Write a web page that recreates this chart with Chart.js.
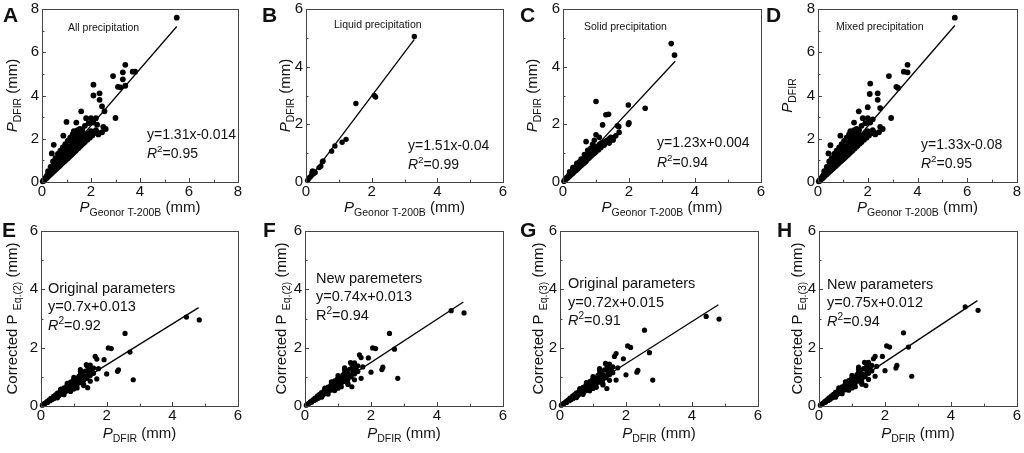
<!DOCTYPE html>
<html>
<head>
<meta charset="utf-8">
<script src="https://cdn.jsdelivr.net/npm/chart.js@4.4.1/dist/chart.umd.min.js"></script>
<style>
  html, body { margin: 0; padding: 0; background: #fff; }
  #wrap { position: relative; width: 1024px; height: 453px; overflow: hidden; }
  canvas { position: absolute; }
</style>
</head>
<body>
<div id="wrap"></div>
<script>
const FONT = '"Liberation Sans", Arial, sans-serif';

// ---- data: [x, y] pairs ----
// A: all precipitation, P Geonor vs P DFIR
const allPrecip = [
  [0.03,0.03],[0.06,0.05],[0.08,0.1],[0.1,0.1],[0.12,0.16],[0.15,0.15],[0.17,0.22],[0.2,0.2],[0.2,0.28],[0.23,0.34],
  [0.25,0.26],[0.28,0.38],[0.3,0.31],[0.3,0.45],[0.33,0.4],[0.35,0.36],[0.38,0.5],[0.4,0.42],[0.4,0.6],[0.43,0.55],
  [0.45,0.47],[0.48,0.68],[0.5,0.52],[0.5,0.8],[0.53,0.62],[0.55,0.58],[0.57,0.75],[0.6,0.63],[0.6,0.9],[0.63,0.82],
  [0.65,0.68],[0.68,0.95],[0.7,0.73],[0.7,1.08],[0.73,0.88],[0.75,0.79],[0.77,1.02],[0.8,0.84],[0.8,1.2],[0.83,0.98],
  [0.85,0.9],[0.87,1.12],[0.9,0.95],[0.9,1.3],[0.93,1.08],[0.95,1.0],[0.97,1.22],[1.0,1.05],[1.0,1.42],[1.03,1.18],
  [1.05,1.1],[1.08,1.32],[1.1,1.16],[1.1,1.55],[1.13,1.3],[1.15,1.21],[1.18,1.45],[1.2,1.26],[1.2,1.7],[1.23,1.4],
  [1.25,1.32],[1.28,1.56],[1.3,1.37],[1.3,1.85],[1.33,1.5],[1.36,1.43],[1.38,1.68],[1.4,1.48],[1.4,2.0],[1.45,1.6],
  [1.48,1.56],[1.5,1.8],[1.5,2.2],[1.55,1.64],[1.58,1.95],[1.6,1.7],[1.62,2.1],[1.68,1.78],[1.7,2.0],[1.75,1.85],
  [1.8,2.15],[1.85,1.95],[1.9,2.25],[1.95,2.05],[2.0,2.35],[2.05,2.15],[2.15,2.28],[2.2,2.4],[2.25,2.3],
  [1.15,2.05],[1.25,2.2],[1.3,2.35],[1.35,2.1],[1.45,2.4],[1.5,2.3],[1.55,2.45],[1.6,2.25],[1.65,2.4],[1.05,1.9],
  [0.95,1.75],[0.85,1.6],[0.75,1.45],[0.65,1.3],[0.55,1.1],[0.45,0.95],[0.35,0.7],[0.25,0.5],
  [0.1,0.12],[0.2,0.24],[0.3,0.36],[0.4,0.5],[0.5,0.62],[0.6,0.75],[0.7,0.86],[0.8,0.98],[0.9,1.1],[1.0,1.22],
  [1.1,1.34],[1.2,1.46],[1.3,1.6],[1.4,1.72],[1.5,1.9],[1.6,1.95],[1.7,2.1],[1.8,2.02],[1.9,2.1],[2.0,2.2],
  [0.15,0.19],[0.25,0.31],[0.35,0.44],[0.45,0.56],[0.55,0.68],[0.65,0.8],[0.75,0.92],[0.85,1.04],[0.95,1.16],[1.05,1.28],
  [1.15,1.4],[1.25,1.52],[1.35,1.65],[1.45,1.75],[1.55,1.85],[1.65,1.9],
  [0.55,0.85],[0.65,0.98],[0.75,1.12],[0.85,1.25],[0.95,1.38],[1.05,1.5],[1.15,1.62],[1.25,1.78],[1.35,1.92],[1.45,2.05],
  [1.55,2.15],[1.65,2.2],[1.0,1.65],[1.2,1.95],[1.4,2.25],[1.3,2.1],
  [5.5,7.6],[3.4,5.42],[3.3,5.07],[3.7,5.1],[3.8,5.1],[2.9,4.9],[3.3,4.75],[3.1,4.4],[3.2,4.38],[3.4,4.45],
  [2.1,4.5],[2.35,4.1],[2.1,4.0],[2.35,3.8],[2.45,3.5],[1.6,3.27],[2.55,3.27],[3.0,2.96],[1.0,2.78],[1.8,2.95],
  [2.0,2.95],[2.2,2.95],[1.9,2.72],[2.1,2.75],[2.25,2.65],[2.5,2.55],[2.6,2.45],[2.15,2.27],[2.3,2.2],[0.87,2.14],
  [0.48,1.72],[0.4,1.32],[1.75,2.6],[1.4,2.75],[2.45,2.3]
];

// B: liquid precipitation
const liquidPrecip = [
  [0.05,0.05],[0.08,0.12],[0.1,0.15],[0.15,0.2],[0.18,0.32],[0.2,0.38],[0.22,0.28],[0.25,0.35],[0.28,0.33],[0.4,0.5],
  [0.45,0.55],[0.5,0.7],[0.52,0.73],[0.78,1.07],[0.88,1.25],[1.1,1.38],[1.22,1.48],[1.52,2.72],[2.08,3.0],[2.12,2.95],
  [3.3,5.05]
];

// C: solid precipitation
const solidPrecip = [
  [0.03,0.03],[0.06,0.07],[0.08,0.12],[0.1,0.1],[0.12,0.16],[0.15,0.15],[0.17,0.22],[0.2,0.2],[0.2,0.27],[0.23,0.32],
  [0.25,0.26],[0.28,0.37],[0.3,0.3],[0.3,0.42],[0.33,0.37],[0.35,0.36],[0.38,0.48],[0.4,0.41],[0.4,0.55],[0.43,0.5],
  [0.45,0.46],[0.48,0.62],[0.5,0.52],[0.5,0.7],[0.53,0.6],[0.55,0.57],[0.58,0.72],[0.6,0.62],[0.6,0.8],[0.63,0.7],
  [0.65,0.67],[0.68,0.85],[0.7,0.72],[0.72,0.92],[0.75,0.8],[0.78,0.95],[0.8,0.84],[0.82,1.02],[0.85,0.9],[0.88,1.05],
  [0.9,0.95],[0.93,1.12],[0.95,1.0],[0.98,1.15],[1.0,1.05],[1.05,1.2],[1.08,1.12],[1.1,1.3],[1.15,1.2],[1.2,1.35],
  [1.25,1.28],[1.3,1.42],[1.35,1.38],[1.4,1.5],[1.45,1.45],[1.5,1.52],
  [0.15,0.18],[0.25,0.3],[0.35,0.42],[0.45,0.54],[0.55,0.65],[0.65,0.77],[0.75,0.88],[0.85,1.0],[0.95,1.1],[1.05,1.15],
  [1.15,1.28],[1.25,1.38],[1.35,1.45],[1.45,1.55],[0.1,0.13],[0.4,0.47],[0.6,0.7],[0.8,0.92],[1.0,1.15],
  [0.2,0.35],[0.3,0.5],[0.42,0.65],[0.55,0.8],[0.65,0.95],[0.75,1.1],[0.85,1.18],[0.95,1.25],[0.7,1.4],[0.9,1.31],
  [1.15,1.35],[1.3,1.4],[1.52,1.46],[1.4,1.35],[1.6,1.6],[1.0,1.64],
  [3.28,4.8],[3.38,4.4],[1.0,2.79],[1.98,2.67],[2.49,2.56],[1.3,2.33],[1.38,2.35],[1.2,1.98],[2.0,2.05],[1.98,2.0],
  [1.69,1.92],[1.7,1.72],[1.65,1.95],[0.95,1.45],[1.1,1.55]
];

// D: mixed precipitation
const mixedPrecip = [
  [0.03,0.03],[0.06,0.05],[0.08,0.1],[0.1,0.1],[0.12,0.16],[0.15,0.15],[0.17,0.22],[0.2,0.2],[0.2,0.28],[0.23,0.34],
  [0.25,0.26],[0.28,0.38],[0.3,0.31],[0.3,0.45],[0.33,0.4],[0.35,0.36],[0.38,0.5],[0.4,0.42],[0.4,0.6],[0.43,0.55],
  [0.45,0.47],[0.48,0.68],[0.5,0.52],[0.5,0.8],[0.53,0.62],[0.55,0.58],[0.57,0.75],[0.6,0.63],[0.6,0.9],[0.63,0.82],
  [0.65,0.68],[0.68,0.95],[0.7,0.73],[0.7,1.08],[0.73,0.88],[0.75,0.79],[0.77,1.02],[0.8,0.84],[0.8,1.2],[0.83,0.98],
  [0.85,0.9],[0.87,1.12],[0.9,0.95],[0.9,1.3],[0.93,1.08],[0.95,1.0],[0.97,1.22],[1.0,1.05],[1.0,1.42],[1.03,1.18],
  [1.05,1.1],[1.08,1.32],[1.1,1.16],[1.1,1.55],[1.13,1.3],[1.15,1.21],[1.18,1.45],[1.2,1.26],[1.2,1.7],[1.23,1.4],
  [1.25,1.32],[1.28,1.56],[1.3,1.37],[1.3,1.85],[1.33,1.5],[1.36,1.43],[1.38,1.68],[1.4,1.48],[1.4,2.0],[1.45,1.6],
  [1.48,1.56],[1.5,1.8],[1.5,2.2],[1.55,1.64],[1.58,1.95],[1.6,1.7],[1.62,2.1],[1.68,1.78],[1.7,2.0],[1.75,1.85],
  [1.8,2.15],[1.85,1.95],[1.9,2.25],[1.95,2.05],[2.0,2.35],[2.05,2.15],[2.15,2.28],[2.2,2.4],[2.25,2.3],
  [1.15,2.05],[1.25,2.2],[1.3,2.35],[1.35,2.1],[1.45,2.4],[1.5,2.3],[1.55,2.45],[1.6,2.25],[1.65,2.4],[1.05,1.9],
  [0.95,1.75],[0.85,1.6],[0.75,1.45],[0.65,1.3],[0.55,1.1],[0.45,0.95],[0.35,0.7],[0.25,0.5],
  [0.1,0.12],[0.2,0.24],[0.3,0.36],[0.4,0.5],[0.5,0.62],[0.6,0.75],[0.7,0.86],[0.8,0.98],[0.9,1.1],[1.0,1.22],
  [1.1,1.34],[1.2,1.46],[1.3,1.6],[1.4,1.72],[1.5,1.9],[1.6,1.95],[1.7,2.1],[1.8,2.02],[1.9,2.1],[2.0,2.2],
  [0.15,0.19],[0.25,0.31],[0.35,0.44],[0.45,0.56],[0.55,0.68],[0.65,0.8],[0.75,0.92],[0.85,1.04],[0.95,1.16],[1.05,1.28],
  [1.15,1.4],[1.25,1.52],[1.35,1.65],[1.45,1.75],[1.55,1.85],[1.65,1.9],
  [0.55,0.85],[0.65,0.98],[0.75,1.12],[0.85,1.25],[0.95,1.38],[1.05,1.5],[1.15,1.62],[1.25,1.78],[1.35,1.92],[1.45,2.05],
  [1.55,2.15],[1.65,2.2],[1.0,1.65],[1.2,1.95],[1.4,2.25],[1.3,2.1],
  [5.5,7.6],[3.6,5.42],[3.45,5.1],[3.6,5.07],[2.85,4.9],[3.15,4.4],[3.22,4.35],[2.1,4.55],[2.4,4.1],[2.08,4.07],
  [2.4,3.8],[2.5,3.42],[1.64,3.27],[2.0,3.46],[2.94,2.96],[0.9,2.14],[0.5,1.7],[1.8,2.95],[2.0,2.95],[2.2,2.9],
  [1.9,2.72],[2.1,2.75],[2.5,2.55],[2.6,2.45],[2.15,2.27],[2.3,2.2],[0.42,1.32],[1.75,2.6],[1.45,2.75],[2.45,2.3]
];

// E-H: P DFIR (shared x) against the corrected values
const dfirX = [
  0.04,0.08,0.1,0.14,0.18,0.2,0.24,0.28,0.3,0.34,0.38,0.4,0.44,0.48,0.5,0.54,0.58,0.6,0.64,0.68,
  0.7,0.74,0.78,0.8,0.84,0.88,0.9,0.94,0.98,1.0,1.05,1.1,1.15,1.2,1.25,1.3,1.35,1.4,0.6,0.85,
  1.1,0.45,1.3,4.43,4.82,2.56,2.05,2.14,2.71,2.81,2.36,2.33,2.0,1.7,1.92,1.65,1.7,1.42,1.38,1.45,
  1.5,1.6,1.75,1.2,1.45,1.55,
  0.15,0.25,0.35,0.45,0.55,0.65,0.75,0.85,0.95,1.05,1.15,1.25,1.35,1.45,1.0,1.2,0.7,0.9,
  0.5,0.7,0.9,1.1,1.3,1.5,0.6,0.8,1.0,1.2,1.4,1.0,1.2,1.4,1.6,1.3,1.5
];
const eq2Original = [
  0.03,0.06,0.08,0.1,0.15,0.12,0.2,0.18,0.26,0.22,0.33,0.26,0.38,0.31,0.44,0.35,0.5,0.4,0.56,0.45,
  0.62,0.5,0.68,0.52,0.75,0.6,0.82,0.64,0.88,0.68,0.92,0.74,1.02,0.8,1.1,0.88,1.2,0.95,0.48,0.66,
  0.88,0.34,1.05,3.05,2.95,2.49,1.99,1.97,1.85,0.9,1.24,1.19,1.1,1.61,1.59,1.7,0.93,0.63,1.42,1.19,
  1.05,1.12,1.28,1.25,1.3,1.22,
  0.11,0.18,0.26,0.33,0.41,0.48,0.56,0.63,0.7,0.78,0.85,0.92,1.0,1.07,0.78,0.96,0.56,0.72,
  0.28,0.39,0.5,0.62,0.74,0.85,0.58,0.78,0.98,1.18,1.38,0.58,1.08,1.2,1.3,0.7,1.4
];
const eq2New = [
  0.03,0.06,0.08,0.11,0.16,0.13,0.21,0.19,0.27,0.23,0.35,0.27,0.4,0.33,0.46,0.37,0.53,0.42,0.59,0.47,
  0.65,0.53,0.71,0.55,0.79,0.63,0.86,0.67,0.92,0.71,0.97,0.78,1.07,0.84,1.16,0.92,1.26,1.0,0.5,0.69,
  0.92,0.36,1.1,3.27,3.19,2.49,1.99,1.97,1.95,0.95,1.33,1.25,1.16,1.66,1.65,1.75,0.95,0.66,1.49,1.25,
  1.1,1.18,1.34,1.31,1.37,1.28,
  0.12,0.19,0.27,0.35,0.43,0.5,0.59,0.66,0.74,0.82,0.89,0.97,1.05,1.12,0.84,1.0,0.59,0.76,
  0.3,0.41,0.53,0.66,0.78,0.9,0.61,0.83,1.04,1.25,1.46,0.61,1.14,1.27,1.38,0.74,1.48
];
const eq3Original = [
  0.03,0.06,0.08,0.1,0.15,0.12,0.2,0.18,0.27,0.22,0.34,0.26,0.39,0.32,0.45,0.36,0.51,0.41,0.57,0.46,
  0.64,0.51,0.7,0.53,0.77,0.61,0.84,0.65,0.9,0.7,0.95,0.76,1.05,0.82,1.13,0.9,1.24,0.97,0.49,0.68,
  0.9,0.35,1.08,3.07,2.98,2.6,2.06,2.01,1.83,0.89,1.22,1.16,1.07,1.8,1.62,1.7,0.89,0.6,1.46,1.22,
  1.07,1.14,1.31,1.28,1.33,1.25,
  0.11,0.18,0.27,0.34,0.42,0.49,0.57,0.64,0.71,0.8,0.87,0.94,1.02,1.09,0.82,0.97,0.57,0.73,
  0.29,0.4,0.52,0.64,0.76,0.88,0.6,0.8,1.01,1.22,1.42,0.6,1.11,1.24,1.34,0.72,1.44
];
const eq3New = [
  0.03,0.06,0.08,0.11,0.16,0.13,0.21,0.19,0.28,0.23,0.35,0.28,0.4,0.33,0.47,0.38,0.53,0.43,0.6,0.48,
  0.66,0.54,0.72,0.56,0.8,0.64,0.87,0.68,0.93,0.72,0.98,0.79,1.08,0.85,1.17,0.93,1.28,1.01,0.51,0.7,
  0.93,0.36,1.11,3.4,3.28,2.51,2.06,2.02,2.02,1.02,1.39,1.3,1.21,1.7,1.7,1.62,1.02,0.7,1.5,1.27,
  1.12,1.2,1.36,1.33,1.39,1.3,
  0.12,0.19,0.28,0.35,0.44,0.51,0.6,0.67,0.75,0.83,0.91,0.98,1.07,1.14,0.85,1.02,0.6,0.77,
  0.3,0.42,0.54,0.66,0.79,0.91,0.62,0.83,1.05,1.26,1.48,0.62,1.16,1.28,1.39,0.75,1.5
];

// fitted lines as printed in each panel (A..H)
const fitSlope     = [1.31, 1.51, 1.23, 1.33, 0.7, 0.74, 0.72, 0.75];
const fitIntercept = [-0.014, -0.04, 0.004, -0.08, 0.013, 0.013, 0.015, 0.012];
const fitFrom      = [0, 0.05, 0, 0, 0, 0, 0, 0];
const fitTo        = [5.5, 3.3, 3.4, 5.5, 4.8, 4.8, 4.8, 4.8];
const axisMax      = [8, 6, 6, 8, 6, 6, 6, 6];
const r2Text       = ['0.95', '0.99', '0.94', '0.95', '0.92', '0.94', '0.91', '0.94'];
const eqText       = ['y=1.31x-0.014', 'y=1.51x-0.04', 'y=1.23x+0.004', 'y=1.33x-0.08',
                      'y=0.7x+0.013', 'y=0.74x+0.013', 'y=0.72x+0.015', 'y=0.75x+0.012'];

const pairs = (xs, ys) => xs.map((x, i) => [x, ys[i]]);

const geonorTitle = [['P', 'i'], ['Geonor T-200B', 'sub'], [' (mm)', '']];
const dfirTitle = [['P', 'i'], ['DFIR', 'sub'], [' (mm)', '']];
const corr2 = [['Corrected P ', ''], ['Eq.(2)', 'sub'], [' (mm)', '']];
const corr3 = [['Corrected P ', ''], ['Eq.(3)', 'sub'], [' (mm)', '']];
const R2 = (v, it) => [['R', it ? 'i' : ''], ['2', 'sup'], ['=' + v, '']];

// canvas box [left, top, w, h], plot area [left, top, right, bottom] inside it
const panels = [
  { letter: 'A', lp: [3, 22], box: [0, 0, 255, 225], area: [42, 9, 238, 182], pts: allPrecip, r: 2.9,
    xt: geonorTitle, xty: 212, yt: dfirTitle, ytx: 17,
    notes: [[68, 31, 10.5, [['All precipitation', '']]], [147, 139, 14, 'eq'], [147, 158, 14, 'r2i']] },
  { letter: 'B', lp: [7, 22], box: [255, 0, 255, 225], area: [51, 9, 248, 182], pts: liquidPrecip, r: 2.7,
    xt: geonorTitle, xty: 212, yt: dfirTitle, ytx: 35,
    notes: [[79, 28, 10.5, [['Liquid precipitation', '']]], [153, 150, 14, 'eq'], [153, 169, 14, 'r2i']] },
  { letter: 'C', lp: [10, 22], box: [510, 0, 255, 225], area: [53, 9, 252, 182], pts: solidPrecip, r: 2.8,
    xt: geonorTitle, xty: 212, yt: dfirTitle, ytx: 27,
    notes: [[74, 30, 10.5, [['Solid precipitation', '']]], [147, 147, 14, 'eq'], [147, 167, 14, 'r2i']] },
  { letter: 'D', lp: [2, 22], box: [764, 0, 260, 225], area: [54, 9, 253, 182], pts: mixedPrecip, r: 2.9,
    xt: geonorTitle, xty: 212, yt: [['P', 'i'], ['DFIR', 'sub']], ytx: 28,
    notes: [[72, 30, 10.5, [['Mixed precipitation', '']]], [157, 149, 14, 'eq'], [157, 168, 14, 'r2i']] },
  { letter: 'E', lp: [2, 25], box: [0, 212, 255, 241], area: [41, 19, 238, 194], pts: pairs(dfirX, eq2Original), r: 2.6,
    xt: dfirTitle, xty: 226, yt: corr2, ytx: 17,
    notes: [[48, 81, 14.5, [['Original parameters', '']]], [48, 99, 14.5, 'eq'], [48, 118, 14.5, 'r2i']] },
  { letter: 'F', lp: [8, 25], box: [255, 212, 255, 241], area: [50, 19, 248, 194], pts: pairs(dfirX, eq2New), r: 2.6,
    xt: dfirTitle, xty: 226, yt: corr2, ytx: 31,
    notes: [[61, 71, 14.5, [['New paremeters', '']]], [61, 89, 14.5, 'eq'], [61, 108, 14.5, 'r2']] },
  { letter: 'G', lp: [10, 25], box: [510, 212, 255, 241], area: [50, 19, 248, 194], pts: pairs(dfirX, eq3Original), r: 2.6,
    xt: dfirTitle, xty: 226, yt: corr3, ytx: 33,
    notes: [[58, 76, 14.5, [['Original parameters', '']]], [58, 95, 14.5, 'eq'], [58, 113, 14.5, 'r2i']] },
  { letter: 'H', lp: [13, 25], box: [764, 212, 260, 241], area: [55, 19, 253, 194], pts: pairs(dfirX, eq3New), r: 2.6,
    xt: dfirTitle, xty: 226, yt: corr3, ytx: 38,
    notes: [[63, 77, 14.5, [['New parameters', '']]], [63, 95, 14.5, 'eq'], [63, 114, 14.5, 'r2i']] }
];

// draws a run of text pieces: '' normal, 'i' italic, 'sub', 'sup'
function rich(ctx, segs, x, y, size, align) {
  const parts = segs.map(([t, st]) => {
    const small = st === 'sub' || st === 'sup';
    const fs = small ? size * 0.7 : size;
    const font = (st === 'i' ? 'italic ' : '') + fs + 'px ' + FONT;
    ctx.font = font;
    return { t, font, w: ctx.measureText(t).width, dy: st === 'sub' ? size * 0.27 : (st === 'sup' ? -size * 0.4 : 0) };
  });
  const total = parts.reduce((a, p) => a + p.w, 0);
  let cx = align === 'center' ? x - total / 2 : x;
  ctx.textAlign = 'left';
  ctx.textBaseline = 'alphabetic';
  parts.forEach(p => { ctx.font = p.font; ctx.fillText(p.t, cx, y + p.dy); cx += p.w; });
}

const decorPlugin = {
  id: 'decor',
  afterDraw(chart, args, opts) {
    const p = opts.panel;
    const ctx = chart.ctx;
    const a = chart.chartArea;
    const xs = chart.scales.x, ys = chart.scales.y;
    ctx.save();
    // frame
    ctx.strokeStyle = '#444';
    ctx.lineWidth = 1;
    ctx.strokeRect(Math.round(a.left) + 0.5, Math.round(a.top) + 0.5, Math.round(a.right - a.left), Math.round(a.bottom - a.top));
    // inward ticks, major every 2 and minor between
    ctx.beginPath();
    for (let v = 0; v <= p.max; v += 1) {
      const len = v % 2 === 0 ? 4 : 2.5;
      const px = Math.round(xs.getPixelForValue(v)) + 0.5;
      const py = Math.round(ys.getPixelForValue(v)) + 0.5;
      ctx.moveTo(px, a.bottom); ctx.lineTo(px, a.bottom - len);
      ctx.moveTo(a.left, py); ctx.lineTo(a.left + len, py);
    }
    ctx.stroke();
    ctx.fillStyle = '#111';
    // panel letter
    ctx.font = 'bold 21px ' + FONT;
    ctx.textAlign = 'left';
    ctx.textBaseline = 'alphabetic';
    ctx.fillText(p.letter, p.lp[0], p.lp[1]);
    // axis titles
    rich(ctx, p.xt, (a.left + a.right) / 2, p.xty, 15, 'center');
    ctx.save();
    ctx.translate(p.ytx, (a.top + a.bottom) / 2);
    ctx.rotate(-Math.PI / 2);
    rich(ctx, p.yt, 0, 0, 15, 'center');
    ctx.restore();
    // notes
    p.notes.forEach(([nx, ny, size, what]) => {
      let segs = what;
      if (what === 'eq') segs = [[eqText[p.idx], '']];
      if (what === 'r2i') segs = R2(r2Text[p.idx], true);
      if (what === 'r2') segs = R2(r2Text[p.idx], false);
      rich(ctx, segs, nx, ny, size, 'left');
    });
    ctx.restore();
  }
};

const wrap = document.getElementById('wrap');
panels.forEach((p, i) => {
  p.idx = i;
  p.max = axisMax[i];
  const [bl, bt, bw, bh] = p.box;
  const [al, at, ar, ab] = p.area;
  const cv = document.createElement('canvas');
  cv.width = bw; cv.height = bh;
  cv.style.left = bl + 'px'; cv.style.top = bt + 'px';
  cv.style.width = bw + 'px'; cv.style.height = bh + 'px';
  wrap.appendChild(cv);

  const tickFont = { family: FONT, size: 15 };
  new Chart(cv, {
    type: 'scatter',
    data: {
      datasets: [
        {
          data: [
            { x: fitFrom[i], y: fitSlope[i] * fitFrom[i] + fitIntercept[i] },
            { x: fitTo[i], y: fitSlope[i] * fitTo[i] + fitIntercept[i] }
          ],
          showLine: true, borderColor: '#000', borderWidth: 1.3, pointRadius: 0, clip: false
        },
        {
          data: p.pts.map(d => ({ x: d[0], y: d[1] })),
          pointRadius: p.r, pointBackgroundColor: '#000', pointBorderWidth: 0, pointBorderColor: '#000', clip: false
        }
      ]
    },
    options: {
      responsive: false,
      animation: false,
      events: [],
      layout: { padding: { left: 0, top: at, right: bw - ar, bottom: 0 } },
      plugins: { legend: { display: false }, tooltip: { enabled: false }, decor: { panel: p } },
      scales: {
        x: {
          type: 'linear', min: 0, max: p.max,
          ticks: { stepSize: 2, font: tickFont, color: '#111', padding: 1, maxRotation: 0 },
          grid: { display: false, drawTicks: false },
          border: { display: false },
          afterFit(s) { s.height = bh - ab; s.paddingLeft = 0; s.paddingRight = 0; }
        },
        y: {
          type: 'linear', min: 0, max: p.max,
          ticks: { stepSize: 2, font: tickFont, color: '#111', padding: 3 },
          grid: { display: false, drawTicks: false },
          border: { display: false },
          afterFit(s) { s.width = al; s.paddingTop = 0; s.paddingBottom = 0; }
        }
      }
    },
    plugins: [decorPlugin]
  });
});
</script>
</body>
</html>
